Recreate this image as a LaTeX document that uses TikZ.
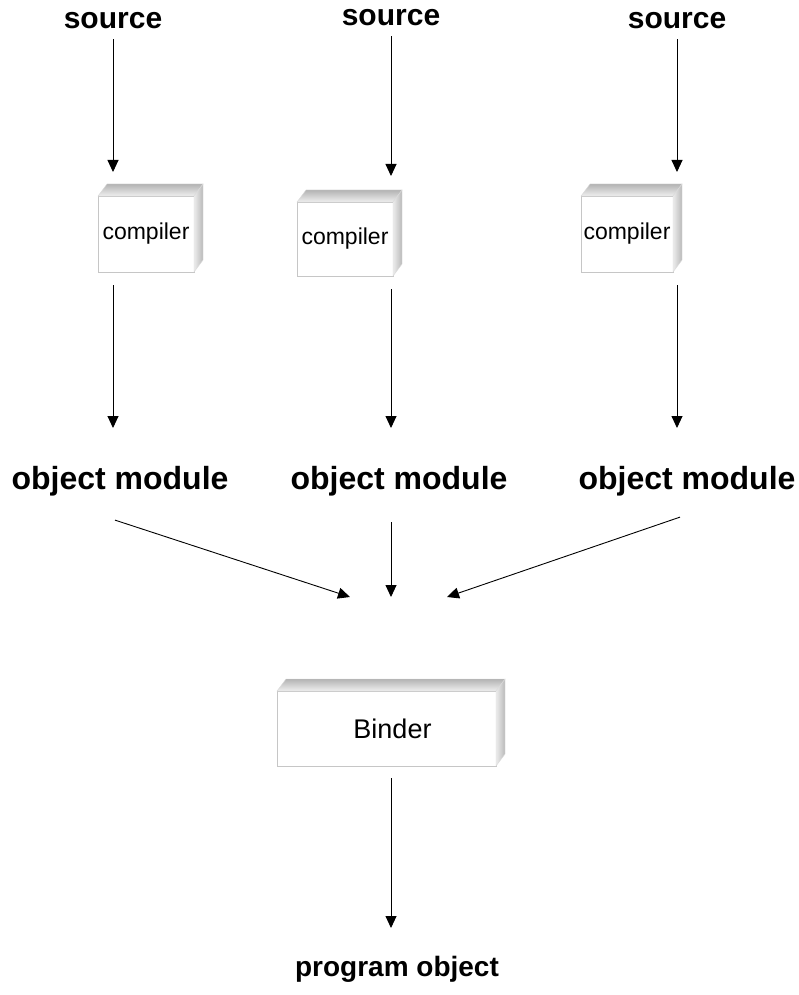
\documentclass[tikz,border=0pt]{standalone}
\usepackage{fontspec}
\setmainfont{Liberation Sans}
\usetikzlibrary{arrows.meta}
\tikzset{
  lbl/.style={font=\bfseries\fontsize{30}{32}\selectfont, inner sep=0pt},
  front/.style={draw=gray!45, line width=0.9pt, fill=white, inner sep=0pt, outer sep=0pt,
    font=\fontsize{23}{25}\selectfont},
  topface/.style={top color=gray!60, bottom color=gray!12, draw=gray!30, line width=0.4pt},
  sideface/.style={left color=gray!15, right color=gray!55, draw=gray!30, line width=0.4pt},
  arr/.style={line width=0.9pt, -{Triangle[length=12pt,width=11pt]}}
}
\newcommand\boxfaces[1]{%
  \path[topface] (#1.north west) -- ([shift={(9,-12)}]#1.north west) -- ([shift={(9,-12)}]#1.north east) -- (#1.north east) -- cycle;
  \path[sideface] (#1.north east) -- ([shift={(9,-12)}]#1.north east) -- ([shift={(9,-12)}]#1.south east) -- (#1.south east) -- cycle;
}
\begin{document}
\begin{tikzpicture}[x=1pt,y=-1pt]
\useasboundingbox (0,0) rectangle (799,995);
% labels
\node[lbl] (s1) at (113,21) {source};
\node[lbl] (s2) at (391,18) {source};
\node[lbl] (s3) at (677,21) {source};
\node[lbl, font=\bfseries\fontsize{32}{34}\selectfont] (o1) at (120,481) {object module};
\node[lbl, font=\bfseries\fontsize{32}{34}\selectfont] (o2) at (399,481) {object module};
\node[lbl, font=\bfseries\fontsize{32}{34}\selectfont] (o3) at (687,481) {object module};
\node[lbl, font=\bfseries\fontsize{28}{30}\selectfont] (p) at (397,969) {program object};
% boxes
\node[front, minimum width=96pt, minimum height=76pt] (c1) at (146,234) {compiler};
\node[front, minimum width=96pt, minimum height=74pt] (c2) at (345,239) {compiler};
\node[front, minimum width=92pt, minimum height=76pt] (c3) at (627,234) {compiler};
\node[front, minimum width=219pt, minimum height=75pt, font=\fontsize{27}{29}\selectfont] (b) at (386.5,728.5) {\hspace*{12pt}Binder};
\boxfaces{c1}
\boxfaces{c2}
\boxfaces{c3}
\boxfaces{b}
% arrow tips
\coordinate (t1) at (113,172);
\coordinate (t2) at (391,176);
\coordinate (t3) at (677,172);
\coordinate (u1) at (113,428);
\coordinate (u2) at (391,428);
\coordinate (u3) at (677,428);
\coordinate (v1) at (350,597);
\coordinate (v2) at (391,597);
\coordinate (v3) at (447,597);
\coordinate (w) at (391,928);
% connectors
\draw[arr, shorten <=10pt] (s1.south) -- (t1);
\draw[arr, shorten <=10pt] (s2.south) -- (t2);
\draw[arr, shorten <=10pt] (s3.south) -- (t3);
\draw[arr, shorten <=13pt] (c1.south -| t1) -- (u1);
\draw[arr, shorten <=13pt] (c2.south -| t2) -- (u2);
\draw[arr, shorten <=13pt] (c3.south -| t3) -- (u3);
\draw[arr] ([shift={(-5pt,-24pt)}]o1.south) -- (v1);
\draw[arr] ([shift={(-8pt,-26pt)}]o2.south) -- (v2);
\draw[arr] ([shift={(-7pt,-21pt)}]o3.south) -- (v3);
\draw[arr, shorten <=12pt] (b.south -| w) -- (w);
\end{tikzpicture}
\end{document}
